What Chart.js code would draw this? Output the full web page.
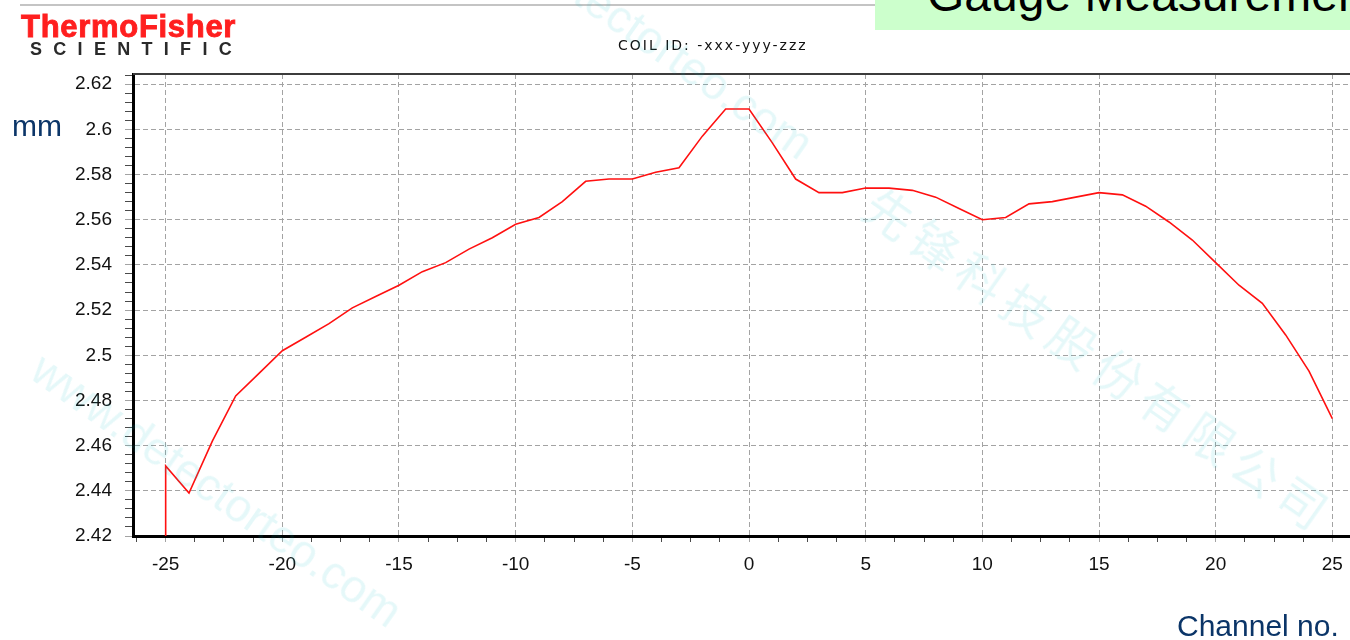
<!DOCTYPE html>
<html>
<head>
<meta charset="utf-8">
<title>Gauge Measurement</title>
<script src="https://cdn.jsdelivr.net/npm/chart.js@4.4.0/dist/chart.umd.min.js"></script>
<style>
  html, body { margin: 0; padding: 0; background: #fff; width: 1350px; height: 640px; overflow: hidden; }
  body { position: relative; font-family: Arial, "Liberation Sans", sans-serif; }
  #chart { position: absolute; left: 0; top: 0; }
  .topline { position: absolute; left: 20px; top: 4px; width: 855px; height: 2px; background: #c4c4c4; }
  .titlebox { position: absolute; left: 875px; top: 0; width: 475px; height: 30px; background: #ccffcc; overflow: hidden; }
  .titlebox span { position: absolute; left: 52px; top: -29px; font-size: 48px; line-height: 48px; color: #000; white-space: nowrap; }
  .logo1 { position: absolute; left: 21px; top: 11px; font-size: 31px; line-height: 31px; font-weight: bold; color: #ff1f1f; letter-spacing: 0.7px; -webkit-text-stroke: 0.9px #ff1f1f; white-space: nowrap; }
  .logo2 { position: absolute; left: 30px; top: 40px; font-size: 18px; line-height: 18px; font-weight: bold; color: #2a2a2a; letter-spacing: 11.3px; white-space: nowrap; }
  .coil { position: absolute; left: 618px; top: 38px; font-family: "DejaVu Sans", sans-serif; font-size: 14px; line-height: 14px; color: #111; letter-spacing: 2px; white-space: nowrap; }
  .unit { position: absolute; font-size: 30px; line-height: 30px; color: #0b3568; white-space: nowrap; }
  .wm { position: absolute; transform-origin: 0 0; transform: rotate(35deg); font-size: 46px; line-height: 1; color: rgba(0, 190, 200, 0.10); white-space: nowrap; pointer-events: none; }
  .wm.cn { font-family: "Noto Sans CJK SC", sans-serif; font-size: 48px; letter-spacing: 8px; }
</style>
</head>
<body>
<canvas id="chart" width="1420" height="640"></canvas>

<div class="topline"></div>
<div class="titlebox"><span>Gauge Measurement</span></div>
<div class="logo1">ThermoFisher</div>
<div class="logo2">SCIENTIFIC</div>
<div class="coil">COIL ID: -xxx-yyy-zzz</div>
<div class="unit" style="left:12px; top:111px;">mm</div>
<div class="unit" style="left:1177px; top:611px;">Channel no.</div>

<div class="wm" style="left:50px; top:345px;">www.detectorteo.com</div>
<div class="wm" style="left:461px; top:-123px;">www.detectorteo.com</div>
<div class="wm cn" style="left:885px; top:178px;">先锋科技股份有限公司</div>

<script>
// channel positions across the strip and measured thickness (mm)
const channels = [
  -25, -24, -23, -22, -21, -20, -19, -18, -17, -16,
  -15, -14, -13, -12, -11, -10, -9, -8, -7, -6,
  -5, -4, -3, -2, -1, 0, 1, 2, 3, 4,
  5, 6, 7, 8, 9, 10, 11, 12, 13, 14,
  15, 16, 17, 18, 19, 20, 21, 22, 23, 24, 25
];
const thickness = [
  2.451, 2.439, 2.462, 2.482, 2.492, 2.502, 2.508, 2.514, 2.521, 2.526,
  2.531, 2.537, 2.541, 2.547, 2.552, 2.558, 2.561, 2.568, 2.577, 2.578,
  2.578, 2.581, 2.583, 2.597, 2.609, 2.609, 2.594, 2.578, 2.572, 2.572,
  2.574, 2.574, 2.573, 2.570, 2.565, 2.560, 2.561, 2.567, 2.568, 2.570,
  2.572, 2.571, 2.566, 2.559, 2.551, 2.541, 2.531, 2.523, 2.509, 2.493, 2.472
];
// trace starts at the bottom of the scale before the first channel
const traceStart = 2.42;

const xTickLabels = [-25, -20, -15, -10, -5, 0, 5, 10, 15, 20, 25];
const yTickLabels = [2.42, 2.44, 2.46, 2.48, 2.5, 2.52, 2.54, 2.56, 2.58, 2.6, 2.62];

const xRange = { min: -26.4, max: 26.4, minorStep: 1.25 };
const yRange = { min: 2.42, max: 2.6245, minorStep: 0.004 };

function isMajor(list, v) {
  return list.some(t => Math.abs(t - v) < 1e-6);
}

const points = [{ x: channels[0], y: traceStart }]
  .concat(channels.map((c, i) => ({ x: c, y: thickness[i] })));

/* Top frame line of the plot */
const frameTop = {
  id: "frameTop",
  afterDraw(chart) {
    const { ctx, chartArea } = chart;
    ctx.save();
    ctx.strokeStyle = "#3c3c3c";
    ctx.lineWidth = 2;
    ctx.beginPath();
    ctx.moveTo(chartArea.left, chartArea.top);
    ctx.lineTo(chartArea.right, chartArea.top);
    ctx.stroke();
    ctx.restore();
  }
};

const gridGrey = "#a3a3a3";

new Chart(document.getElementById("chart").getContext("2d"), {
  type: "line",
  data: {
    datasets: [{
      data: points,
      borderColor: "#ff1010",
      borderWidth: 1.6,
      pointRadius: 0,
      tension: 0,
      fill: false
    }]
  },
  options: {
    responsive: false,
    animation: false,
    devicePixelRatio: 1,
    layout: { padding: { top: 74, left: 0, right: 55, bottom: 54 } },
    plugins: { legend: { display: false }, tooltip: { enabled: false } },
    scales: {
      x: {
        type: "linear",
        min: xRange.min,
        max: xRange.max,
        afterFit(scale) { scale.height = 50; },
        ticks: {
          stepSize: xRange.minorStep,
          includeBounds: false,
          autoSkip: false,
          maxRotation: 0,
          padding: 11,
          color: "#111",
          font: { family: "Arial, 'Liberation Sans'", size: 19 },
          callback: v => isMajor(xTickLabels, v) ? String(Math.round(v)) : ""
        },
        grid: {
          color: c => isMajor(xTickLabels, c.tick.value) ? gridGrey : "rgba(0,0,0,0)",
          tickColor: c => isMajor(xTickLabels, c.tick.value) ? gridGrey : "#4a4a4a",
          lineWidth: 1,
          tickLength: 6
        },
        border: { color: "#000", width: 3, dash: [5, 3] }
      },
      y: {
        min: yRange.min,
        max: yRange.max,
        afterFit(scale) { scale.width = 133; },
        ticks: {
          stepSize: yRange.minorStep,
          includeBounds: false,
          autoSkip: false,
          padding: 13,
          color: "#111",
          font: { family: "Arial, 'Liberation Sans'", size: 19 },
          callback: v => {
            const t = yTickLabels.find(l => Math.abs(l - v) < 1e-6);
            return t === undefined ? "" : String(t);
          }
        },
        grid: {
          color: c => isMajor(yTickLabels, c.tick.value) ? gridGrey : "rgba(0,0,0,0)",
          tickColor: c => isMajor(yTickLabels, c.tick.value) ? gridGrey : "#4a4a4a",
          lineWidth: 1,
          tickLength: 8
        },
        border: { color: "#000", width: 3, dash: [5, 3] }
      }
    }
  },
  plugins: [frameTop]
});
</script>
</body>
</html>
